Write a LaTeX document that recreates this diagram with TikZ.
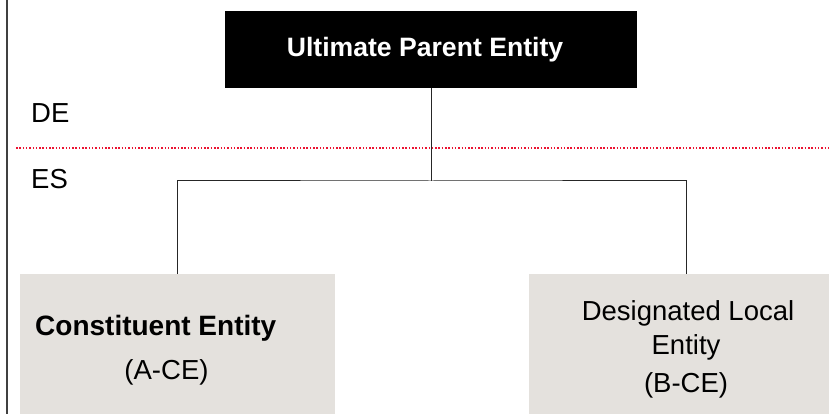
\documentclass[tikz,border=0pt]{standalone}
\usepackage{fontspec}
\setmainfont{Liberation Sans}
\usetikzlibrary{positioning}

\definecolor{boxgray}{RGB}{228,225,221}
\definecolor{dotred}{RGB}{235,20,50}

\tikzset{
  upe/.style={fill=black, text=white, inner sep=0pt,
    font=\fontsize{26.6}{32}\selectfont\bfseries,
    minimum width=412pt, minimum height=77pt},
  entbox/.style={fill=boxgray, inner sep=0pt, anchor=north west},
  lbl/.style={inner sep=0pt, font=\fontsize{27.5}{33}\selectfont},
  wire/.style={black!85, line width=1pt},
}

\begin{document}
\begin{tikzpicture}[x=1pt, y=-1pt]
  \useasboundingbox (0,0) rectangle (829,414);

  % Frame line on the left
  \draw[black!75, line width=1.2pt] (7,0) -- (7,414);

  % Top entity
  \node[upe] (upe) at (431,49.5) {\hspace*{-12pt}Ultimate Parent Entity};

  % Jurisdiction split
  \node[lbl, anchor=base west] (de) at (31,123) {DE};
  \draw[dotred, line width=1.6pt, dash pattern=on 1.5pt off 1.8pt] (16,148) -- (829,148);
  \node[lbl, anchor=base west] (es) at (31,189) {ES};

  % Entity boxes
  \node[entbox, minimum width=315pt, minimum height=140pt] (ce) at (20,274) {};
  \node[entbox, minimum width=300pt, minimum height=140pt] (dle) at (529,274) {};

  \node[lbl, font=\fontsize{28}{33}\selectfont\bfseries, anchor=base west] (cename) at (35,335) {Constituent Entity};
  \node[lbl, anchor=base] (cecode) at (166.5,379) {(A-CE)};

  \node[lbl, anchor=base] (dlename) at (688,320) {Designated Local};
  \node[lbl, anchor=base] (dlename2) at (686,354) {Entity};
  \node[lbl, anchor=base] (dlecode) at (686,392) {(B-CE)};

  % Connectors
  \coordinate (fork) at (431,181);
  \coordinate (dletop) at (686,274);
  \draw[wire] (upe.south) -- (fork);
  \draw[wire] (ce.north) |- (fork) -| (dletop);

\end{tikzpicture}
\end{document}
